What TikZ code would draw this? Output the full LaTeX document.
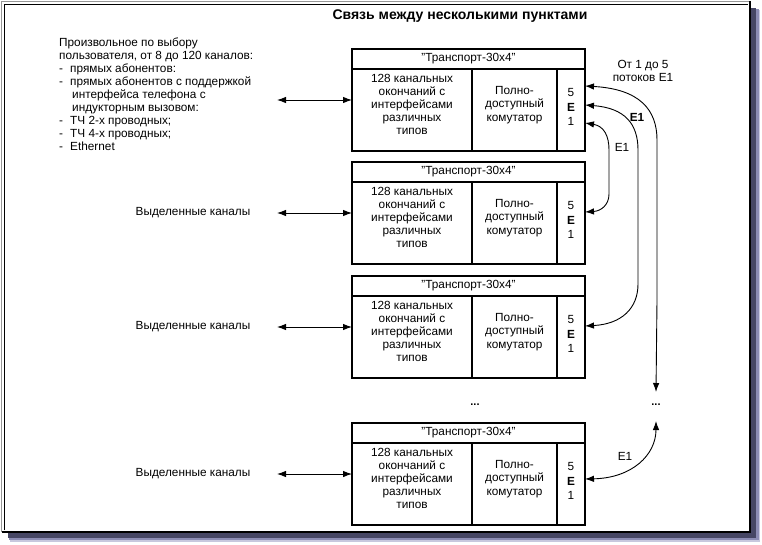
\documentclass[tikz,border=0pt]{standalone}
\usepackage{fontspec}
\setmainfont{Liberation Sans}
\usetikzlibrary{arrows.meta}
\definecolor{shA}{RGB}{200,200,222}
\definecolor{shB}{RGB}{140,140,180}
\definecolor{shC}{RGB}{70,70,100}
\definecolor{frgray}{RGB}{150,150,150}
\tikzset{
  txt/.style={font=\fontsize{11.8}{12.9}\selectfont, inner sep=0pt, align=center},
  cell/.style={draw, line width=1.1pt, inner sep=0pt, outer sep=0pt, anchor=north west, align=center, font=\fontsize{11.8}{12.9}\selectfont},
  conn/.style={line width=0.9pt, {Latex[length=9pt,width=6.5pt]}-{Latex[length=9pt,width=6.5pt]}},
}
\newcommand{\tbox}[2]{%
  \node[cell, minimum width=233pt, minimum height=20pt] (t#1) at (352,#2) {"Транспорт-30x4"};
  \node[cell, minimum width=120pt, minimum height=82pt] (c#1) at (352,#2+20) {};
  \node[cell, minimum width=85pt, minimum height=82pt] (m#1) at (472,#2+20) {};
  \node[cell, minimum width=28pt, minimum height=82pt] (r#1) at (557,#2+20) {};
  \node[txt] (ct#1) at (412,#2+55.5) {128 канальных\\окончаний с\\интерфейсами\\различных\\типов};
  \node[txt, font=\fontsize{11.8}{13.4}\selectfont] (mt#1) at (514.5,#2+56) {Полно-\\доступный\\комутатор};
  \node[txt, font=\fontsize{11.8}{14.2}\selectfont] (rt#1) at (571,#2+58) {5\\\textbf{E}\\1};
  \coordinate (la#1) at (277,#2+51);
  \draw[conn] (la#1) -- (la#1 -| c#1.west);
}
\begin{document}
\begin{tikzpicture}[x=1pt,y=-1pt]
\useasboundingbox (0,0) rectangle (762,544);
% shadow and frame
\fill[shA] (10,10) rectangle (760,542);
\fill[shB] (9,9) rectangle (758.5,540);
\fill[shC] (8,8) rectangle (756,537.5);
\fill[white] (1,1) rectangle (750,532);
\draw[frgray, line width=1.2pt] (1.5,532) -- (1.5,1.5) -- (750,1.5);
\draw[black, line width=1.2pt] (4.5,530) -- (4.5,4.5) -- (748,4.5);
\draw[black, line width=2pt] (2,532) -- (750,532) -- (750,1);

\node[font=\bfseries\fontsize{14}{16}\selectfont, inner sep=0pt] (title) at (460,16) {Связь между несколькими пунктами};

\node[txt, align=left, anchor=north west] (opts) at (59,38) {%
Произвольное по выбору\\
пользователя, от 8 до 120 каналов:\\
\makebox[11pt][l]{-}прямых абонентов:\\
\makebox[11pt][l]{-}прямых абонентов с поддержкой\\
\hspace*{13pt}интерфейса телефона с\\
\hspace*{13pt}индукторным вызовом:\\
\makebox[11pt][l]{-}ТЧ 2-х проводных;\\
\makebox[11pt][l]{-}ТЧ 4-х проводных;\\
\makebox[11pt][l]{-}Ethernet};

\tbox{1}{49}
\tbox{2}{162}
\tbox{3}{276}
\tbox{4}{423}

\node[txt] (lab2) at (193,213) {Выделенные каналы};
\node[txt] (lab3) at (193,327) {Выделенные каналы};
\node[txt] (lab4) at (193,474) {Выделенные каналы};

\node[txt, font=\bfseries\fontsize{11}{12}\selectfont] (dl) at (475,405) {...};
\node[txt, font=\bfseries\fontsize{11}{12}\selectfont] (dr) at (656,405) {...};

\node[txt] (flows) at (643,71) {От 1 до 5\\потоков E1};

\coordinate (p1a) at (r1.east |- 0,86);
\coordinate (p1b) at (r1.east |- 0,105);
\coordinate (p1c) at (r1.east |- 0,123);
\coordinate (p2) at (r2.east |- 0,212);
\coordinate (p3) at (r3.east |- 0,326);
\coordinate (p4) at (r4.east |- 0,479);
\coordinate (dtop) at (656,392);
\coordinate (dbot) at (656,421);

\draw[conn] (p1c) .. controls (604,126) and (609,136) .. (609,150) -- (609,194) .. controls (609,205) and (601,211) .. (p2);
\draw[conn] (p1b) .. controls (625,108) and (638,124) .. (638,150) -- (638,284) .. controls (638,308) and (622,324) .. (p3);
\draw[conn] (p1a) .. controls (640,89) and (657,110) .. (657,140) -- (657,300) -- (dtop);
\draw[conn] (dbot) .. controls (656,455) and (632,478) .. (p4);

\node[txt] (e1a) at (622,147) {E1};
\node[txt, font=\bfseries\fontsize{11.8}{12}\selectfont] (e1b) at (637,117) {E1};
\node[txt] (e1c) at (625,456) {E1};
\end{tikzpicture}
\end{document}
